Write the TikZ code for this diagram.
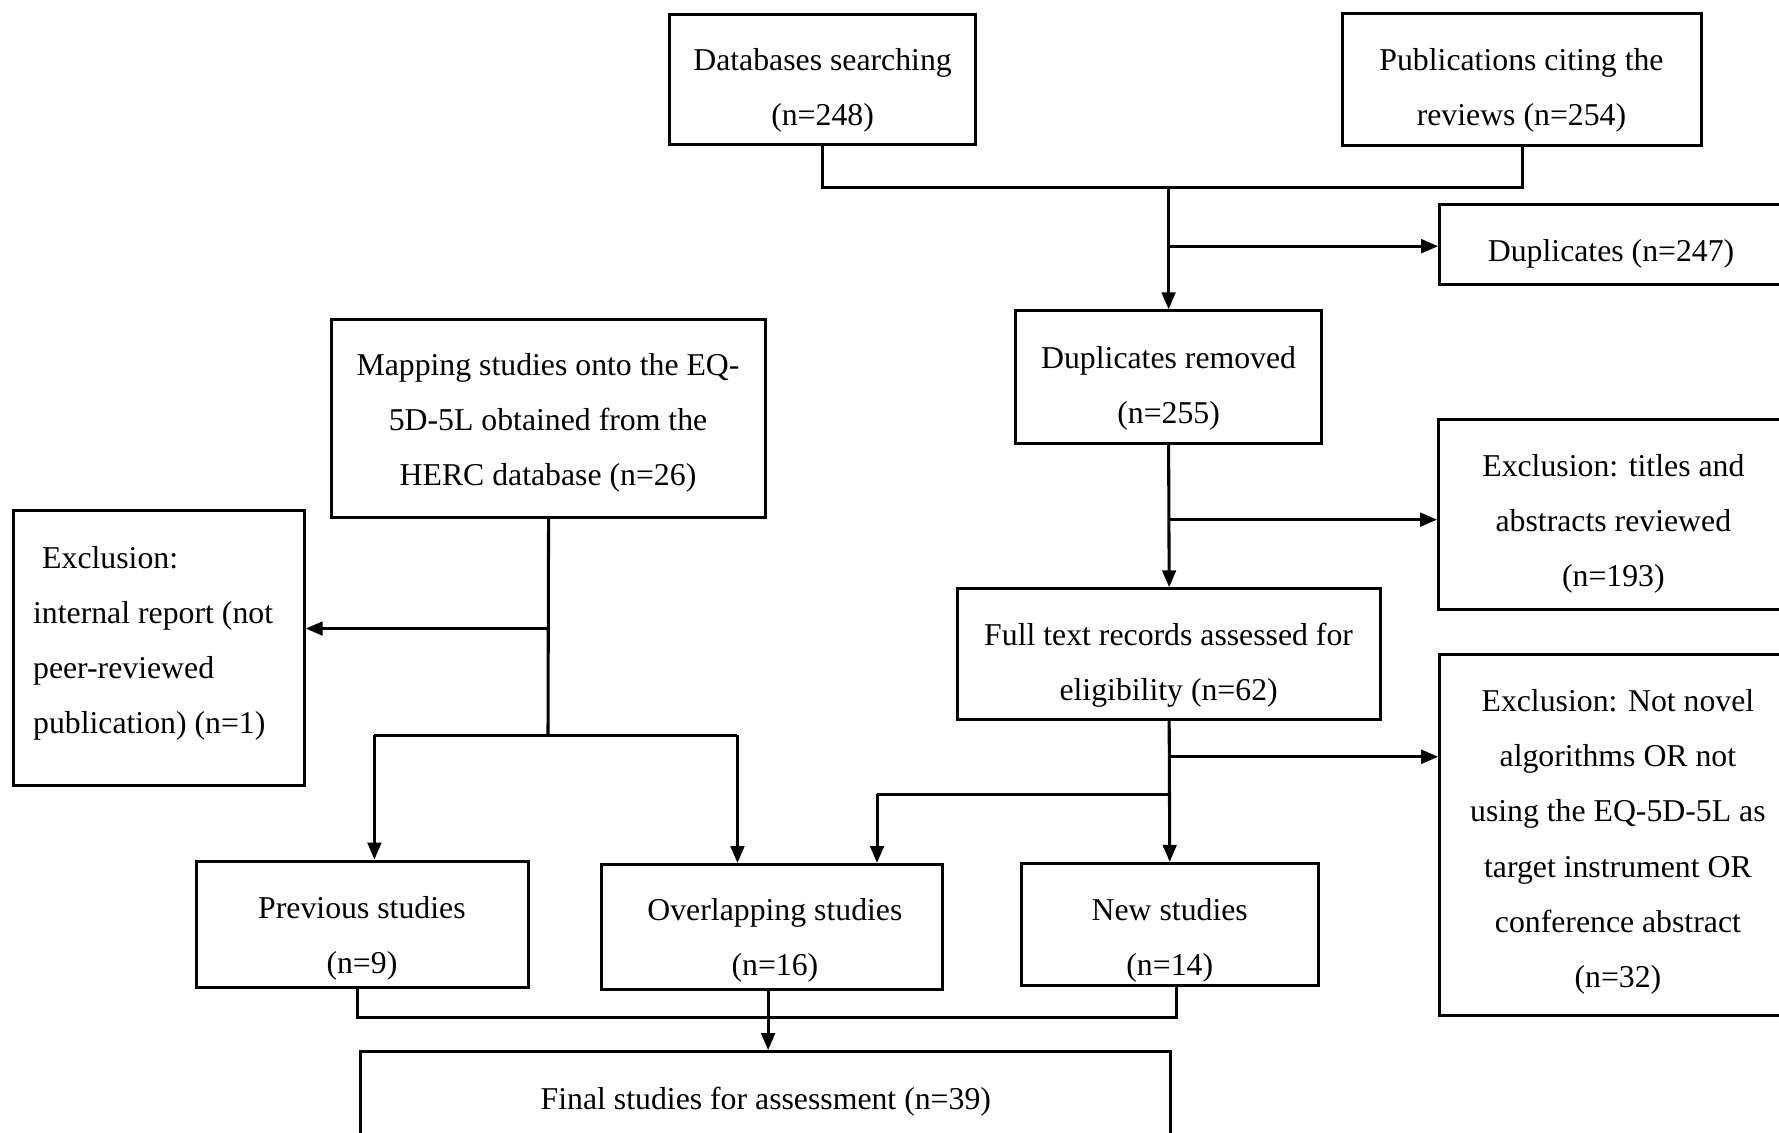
\documentclass[tikz,border=0pt]{standalone}
\usepackage{fontspec}
\setmainfont{Liberation Serif}
\usetikzlibrary{arrows.meta,fit}
\tikzset{
  box/.style={draw, line width=2.7pt, inner sep=0pt},
  txt/.style={inner sep=0pt, align=center, font=\fontsize{28}{48.5}\selectfont},
  conn/.style={line width=2.7pt},
  arr/.style={line width=2.7pt, -{Triangle[length=15pt,width=12pt]}}
}
\begin{document}
\begin{tikzpicture}[x=1pt,y=-1pt]
\useasboundingbox (0,0) rectangle (1568,998);
% boxes
\node[box, fit={(590,13) (860,127)}] (db) {};
\node[box, fit={(1183,12) (1500,128)}] (pub) {};
\node[box, fit={(1269,180) (1575,251)}] (dup) {};
\node[box, fit={(895,274) (1165,391)}] (dr) {};
\node[box, fit={(1268,370) (1575,537)}] (exa) {};
\node[box, fit={(292,282) (675,456)}] (map) {};
\node[box, fit={(12,450) (268,692)}] (exi) {};
\node[box, fit={(844,519) (1217,634)}] (ft) {};
\node[box, fit={(1269,577) (1575,895)}] (exn) {};
\node[box, fit={(173,759) (466,870)}] (prev) {};
\node[box, fit={(530,762) (831,872)}] (ov) {};
\node[box, fit={(900,761) (1162,869)}] (new) {};
\node[box, fit={(318,927) (1032,1015)}] (fin) {};
% texts
\node[txt] (dbt) at (725,80) {Databases searching\\(n=248)};
\node[txt] (pubt) at (1341,80) {Publications citing the\\reviews (n=254)};
\node[txt] (dupt) at (1420,224) {Duplicates (n=247)};
\node[txt] (drt) at (1030,342) {Duplicates removed\\(n=255)};
\node[txt] (exat) at (1422,462) {Exclusion: titles and\\abstracts reviewed\\(n=193)};
\node[txt] (mapt) at (483,373) {Mapping studies onto the EQ-\\5D-5L obtained from the\\HERC database (n=26)};
\node[txt, align=left, anchor=west] (exit) at (29,567) {\hspace*{8pt}Exclusion:\\internal report (not\\peer-reviewed\\publication) (n=1)};
\node[txt] (ftt) at (1030,586) {Full text records assessed for\\eligibility (n=62)};
\node[txt] (exnt) at (1426,742) {Exclusion: Not novel\\algorithms OR not\\using the EQ-5D-5L as\\target instrument OR\\conference abstract\\(n=32)};
\node[txt] (prevt) at (319,827) {Previous studies\\(n=9)};
\node[txt] (ovt) at (683,829) {Overlapping studies\\(n=16)};
\node[txt] (newt) at (1031,829) {New studies\\(n=14)};
\node[txt] (fint) at (675,971) {Final studies for assessment (n=39)};
% junction coordinates
\coordinate (j1) at (1030,165);
\coordinate (b1) at (1030,217);
\coordinate (b2) at (1030,458);
\coordinate (m1) at (483,554);
\coordinate (m2) at (483,648);
\coordinate (s1) at (330,648);
\coordinate (s2) at (650,648);
\coordinate (b3) at (1030,667);
\coordinate (b4) at (1030,700);
\coordinate (o1) at (773,700);
\coordinate (f1) at (315,897);
\coordinate (f2) at (1037,897);
\coordinate (f3) at (677,897);
% connectors
\draw[conn] (db.south) |- (j1) -| (pub.south);
\draw[arr] (j1) -- (dr.north);
\draw[arr] (b1) -- (b1 -| dup.west);
\draw[arr] (dr.south) -- (ft.north);
\draw[arr] (b2) -- (b2 -| exa.west);
\draw[conn] (map.south) -- (m2);
\draw[arr] (m1) -- (m1 -| exi.east);
\draw[conn] (s1) -- (s2);
\draw[arr] (s1) -- (s1 |- prev.north);
\draw[arr] (s2) -- (s2 |- ov.north);
\draw[arr] (ft.south) -- (new.north);
\draw[arr] (b3) -- (b3 -| exn.west);
\draw[conn] (b4) -- (o1);
\draw[arr] (o1) -- (o1 |- ov.north);
\draw[conn] (f1 |- prev.south) -- (f1) -- (f2) -- (f2 |- new.south);
\draw[arr] (f3 |- ov.south) -- (f3 |- fin.north);
\end{tikzpicture}
\end{document}
